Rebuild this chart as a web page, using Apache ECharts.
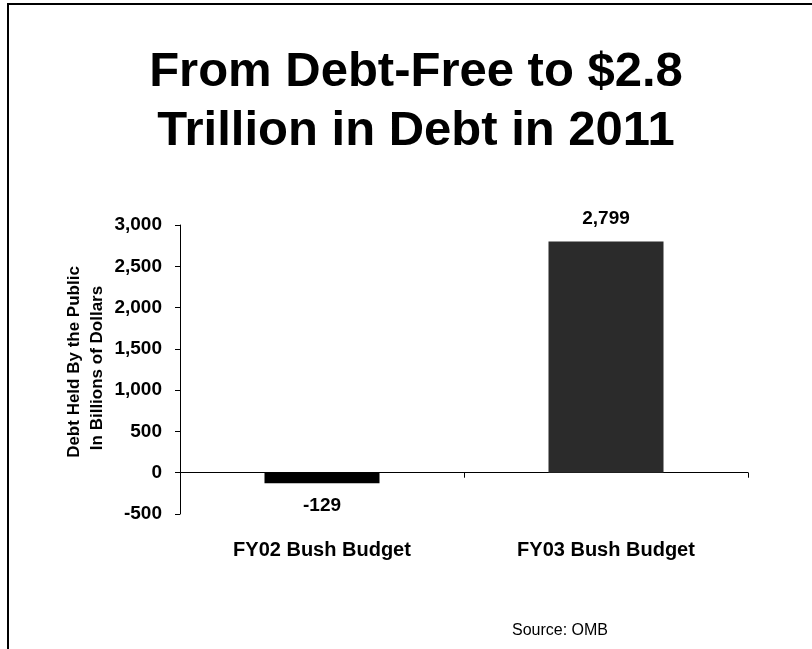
<!DOCTYPE html>
<html>
<head>
<meta charset="utf-8">
<script src="https://cdn.jsdelivr.net/npm/echarts@6/dist/echarts.min.js"></script>
<style>
  html, body { margin: 0; padding: 0; background: #fff; }
  #chart { width: 812px; height: 649px; }
</style>
</head>
<body>
<div id="chart"></div>
<script>
// Debt held by the public in 2011, billions of dollars
const categories = ['FY02 Bush Budget', 'FY03 Bush Budget'];
const debtValues = [-129, 2799];
const barColors = ['#000000', '#2b2b2b'];
const titleLines = ['From Debt-Free to $2.8', 'Trillion in Debt in 2011'];
const axisNameLines = ['Debt Held By the Public', 'In Billions of Dollars'];
const sourceNote = 'Source: OMB';

const FONT = '"Liberation Sans", Arial, Helvetica, sans-serif';

const chart = echarts.init(document.getElementById('chart'), null, { renderer: 'canvas' });

const fmt = v => Number(v).toLocaleString('en-US');

chart.setOption({
  animation: false,
  backgroundColor: '#ffffff',
  textStyle: { fontFamily: FONT },
  grid: { left: 180, right: 64, top: 225, bottom: 135, containLabel: false },
  xAxis: {
    type: 'category',
    data: categories,
    axisLine: { onZero: true, lineStyle: { color: '#000', width: 1 } },
    axisTick: { show: true, inside: false, length: 5, alignWithLabel: false, lineStyle: { color: '#000' } },
    axisLabel: {
      margin: 26,
      color: '#000',
      fontFamily: FONT,
      fontWeight: 'bold',
      fontSize: 20
    },
    splitLine: { show: false }
  },
  yAxis: {
    type: 'value',
    min: -500,
    max: 3000,
    interval: 500,
    axisLine: { show: true, lineStyle: { color: '#000', width: 1 } },
    axisTick: { show: true, length: 5, lineStyle: { color: '#000' } },
    axisLabel: {
      margin: 18,
      color: '#000',
      fontFamily: FONT,
      fontWeight: 'bold',
      fontSize: 19,
      formatter: fmt
    },
    splitLine: { show: false }
  },
  series: [{
    type: 'bar',
    barWidth: 115,
    data: debtValues.map((v, i) => ({
      value: v,
      itemStyle: { color: barColors[i] },
      label: { position: v < 0 ? 'bottom' : 'top' }
    })),
    label: {
      show: true,
      distance: 13,
      color: '#000',
      fontFamily: FONT,
      fontWeight: 'bold',
      fontSize: 19,
      formatter: p => fmt(p.value)
    }
  }],
  graphic: [
    // page frame
    {
      type: 'rect',
      shape: { x: 8, y: 4, width: 820, height: 660 },
      style: { fill: 'none', stroke: '#000', lineWidth: 2 },
      silent: true
    },
    {
      type: 'text',
      x: 416, y: 72,
      style: { text: titleLines[0], align: 'center', verticalAlign: 'middle',
               font: 'bold 49px ' + FONT, fill: '#000' }
    },
    {
      type: 'text',
      x: 416, y: 131,
      style: { text: titleLines[1], align: 'center', verticalAlign: 'middle',
               font: 'bold 49px ' + FONT, fill: '#000' }
    },
    {
      type: 'text',
      x: 74, y: 362, rotation: Math.PI / 2,
      style: { text: axisNameLines[0], align: 'center', verticalAlign: 'middle',
               font: 'bold 17px ' + FONT, fill: '#000' }
    },
    {
      type: 'text',
      x: 97, y: 368, rotation: Math.PI / 2,
      style: { text: axisNameLines[1], align: 'center', verticalAlign: 'middle',
               font: 'bold 17px ' + FONT, fill: '#000' }
    },
    {
      type: 'text',
      x: 512, y: 631,
      style: { text: sourceNote, align: 'left', verticalAlign: 'middle',
               font: '16px ' + FONT, fill: '#000' }
    }
  ]
});
</script>
</body>
</html>
